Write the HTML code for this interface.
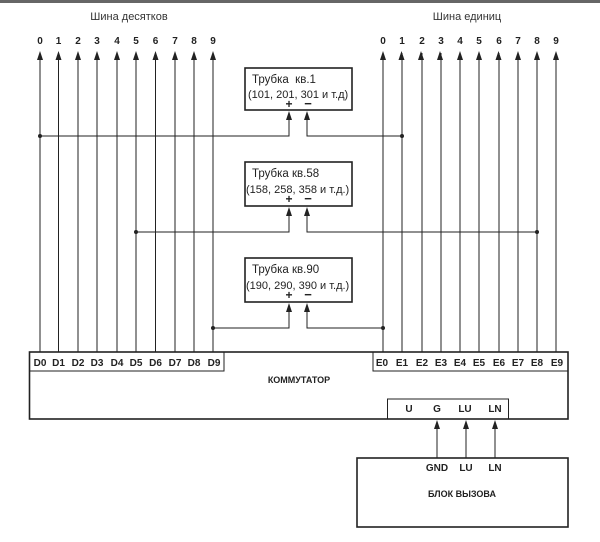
<!DOCTYPE html>
<html><head><meta charset="utf-8"><style>
html,body{margin:0;padding:0;background:#fff;}
svg{display:block;}
text{font-family:"Liberation Sans",sans-serif;fill:#222;}
.b{font-weight:bold;font-size:10px;}
.n{font-size:11.5px;}
</style></head><body>
<svg width="600" height="542" viewBox="0 0 600 542" xmlns="http://www.w3.org/2000/svg">
<rect x="0" y="0" width="600" height="3" fill="#666"/>
<text x="129" y="20" font-size="11" text-anchor="middle" style="fill:#333">Шина десятков</text>
<text x="467" y="20" font-size="11" text-anchor="middle" style="fill:#333">Шина единиц</text>
<g stroke="#222" stroke-width="1" fill="none">
<path d="M40,352V53M58.5,352V53M78,352V53M97,352V53M117,352V53M136,352V53M155.5,352V53M175,352V53M194,352V53M213,352V53"/>
<path d="M383,352V53M402,352V53M422,352V53M441,352V53M460,352V53M479,352V53M499,352V53M518,352V53M537,352V53M556,352V53"/>
<rect x="245" y="68" width="107" height="42" stroke-width="1.6"/>
<rect x="245" y="162" width="107" height="44" stroke-width="1.6"/>
<rect x="245" y="258" width="107" height="44" stroke-width="1.6"/>
<path d="M40,136H289V113M307,113V136H402"/>
<path d="M136,232H289V209M307,209V232H537"/>
<path d="M213,328H289V305M307,305V328H383"/>
<rect x="29.5" y="352" width="538.5" height="67" stroke-width="1.6"/>
<rect x="29.5" y="352" width="194.5" height="19"/>
<rect x="373" y="352" width="195" height="19"/>
<rect x="387.5" y="399" width="121" height="20"/>
<rect x="357" y="458" width="211" height="69" stroke-width="1.6"/>
<path d="M437,458V422M466,458V422M495,458V422"/>
</g>
<g fill="#222">
<g id="ah">
<path d="M37,60L40,51L43,60Z"/><path d="M55.5,60L58.5,51L61.5,60Z"/><path d="M75,60L78,51L81,60Z"/><path d="M94,60L97,51L100,60Z"/><path d="M114,60L117,51L120,60Z"/><path d="M133,60L136,51L139,60Z"/><path d="M152.5,60L155.5,51L158.5,60Z"/><path d="M172,60L175,51L178,60Z"/><path d="M191,60L194,51L197,60Z"/><path d="M210,60L213,51L216,60Z"/>
</g>
<g transform="translate(343,0)"><use href="#ah"/></g>
<path d="M286,120L289,111L292,120Z M304,120L307,111L310,120Z"/>
<path d="M286,216L289,207L292,216Z M304,216L307,207L310,216Z"/>
<path d="M286,312L289,303L292,312Z M304,312L307,303L310,312Z"/>
<path d="M434,429L437,420L440,429Z M463,429L466,420L469,429Z M492,429L495,420L498,429Z"/>
<circle cx="40" cy="136" r="2"/><circle cx="402" cy="136" r="2"/>
<circle cx="136" cy="232" r="2"/><circle cx="537" cy="232" r="2"/>
<circle cx="213" cy="328" r="2"/><circle cx="383" cy="328" r="2"/>
</g>
<g class="b" text-anchor="middle">
<text x="40" y="44">0</text><text x="58.5" y="44">1</text><text x="78" y="44">2</text><text x="97" y="44">3</text><text x="117" y="44">4</text><text x="136" y="44">5</text><text x="155.5" y="44">6</text><text x="175" y="44">7</text><text x="194" y="44">8</text><text x="213" y="44">9</text>
<text x="383" y="44">0</text><text x="402" y="44">1</text><text x="422" y="44">2</text><text x="441" y="44">3</text><text x="460" y="44">4</text><text x="479" y="44">5</text><text x="499" y="44">6</text><text x="518" y="44">7</text><text x="537" y="44">8</text><text x="556" y="44">9</text>
<text x="40" y="366">D0</text><text x="58.5" y="366">D1</text><text x="78" y="366">D2</text><text x="97" y="366">D3</text><text x="117" y="366">D4</text><text x="136" y="366">D5</text><text x="155.5" y="366">D6</text><text x="175" y="366">D7</text><text x="194" y="366">D8</text><text x="214" y="366">D9</text>
<text x="382" y="366">E0</text><text x="402" y="366">E1</text><text x="422" y="366">E2</text><text x="441" y="366">E3</text><text x="460" y="366">E4</text><text x="479" y="366">E5</text><text x="499" y="366">E6</text><text x="518" y="366">E7</text><text x="537" y="366">E8</text><text x="557" y="366">E9</text>
<text x="299" y="383" font-size="9">КОММУТАТОР</text>
<text x="409" y="412">U</text><text x="437" y="412">G</text><text x="465" y="412">LU</text><text x="495" y="412">LN</text>
<text x="437" y="471">GND</text><text x="466" y="471">LU</text><text x="495" y="471">LN</text>
<text x="462" y="497" font-size="9">БЛОК ВЫЗОВА</text>
</g>
<g class="n">
<text x="252" y="83" xml:space="preserve">Трубка  кв.1</text>
<text x="248" y="98" font-size="11">(101, 201, 301 и т.д)</text>
<text x="252" y="177">Трубка кв.58</text>
<text x="246" y="193" font-size="11">(158, 258, 358 и т.д.)</text>
<text x="252" y="273">Трубка кв.90</text>
<text x="246" y="289" font-size="11">(190, 290, 390 и т.д.)</text>
</g>
<g class="b" text-anchor="middle">
<text x="289" y="108" style="font-size:12px">+</text><text x="308" y="108" style="font-size:13px">−</text>
<text x="289" y="203" style="font-size:12px">+</text><text x="308" y="203" style="font-size:13px">−</text>
<text x="289" y="299" style="font-size:12px">+</text><text x="308" y="299" style="font-size:13px">−</text>
</g>
</svg>
</body></html>
